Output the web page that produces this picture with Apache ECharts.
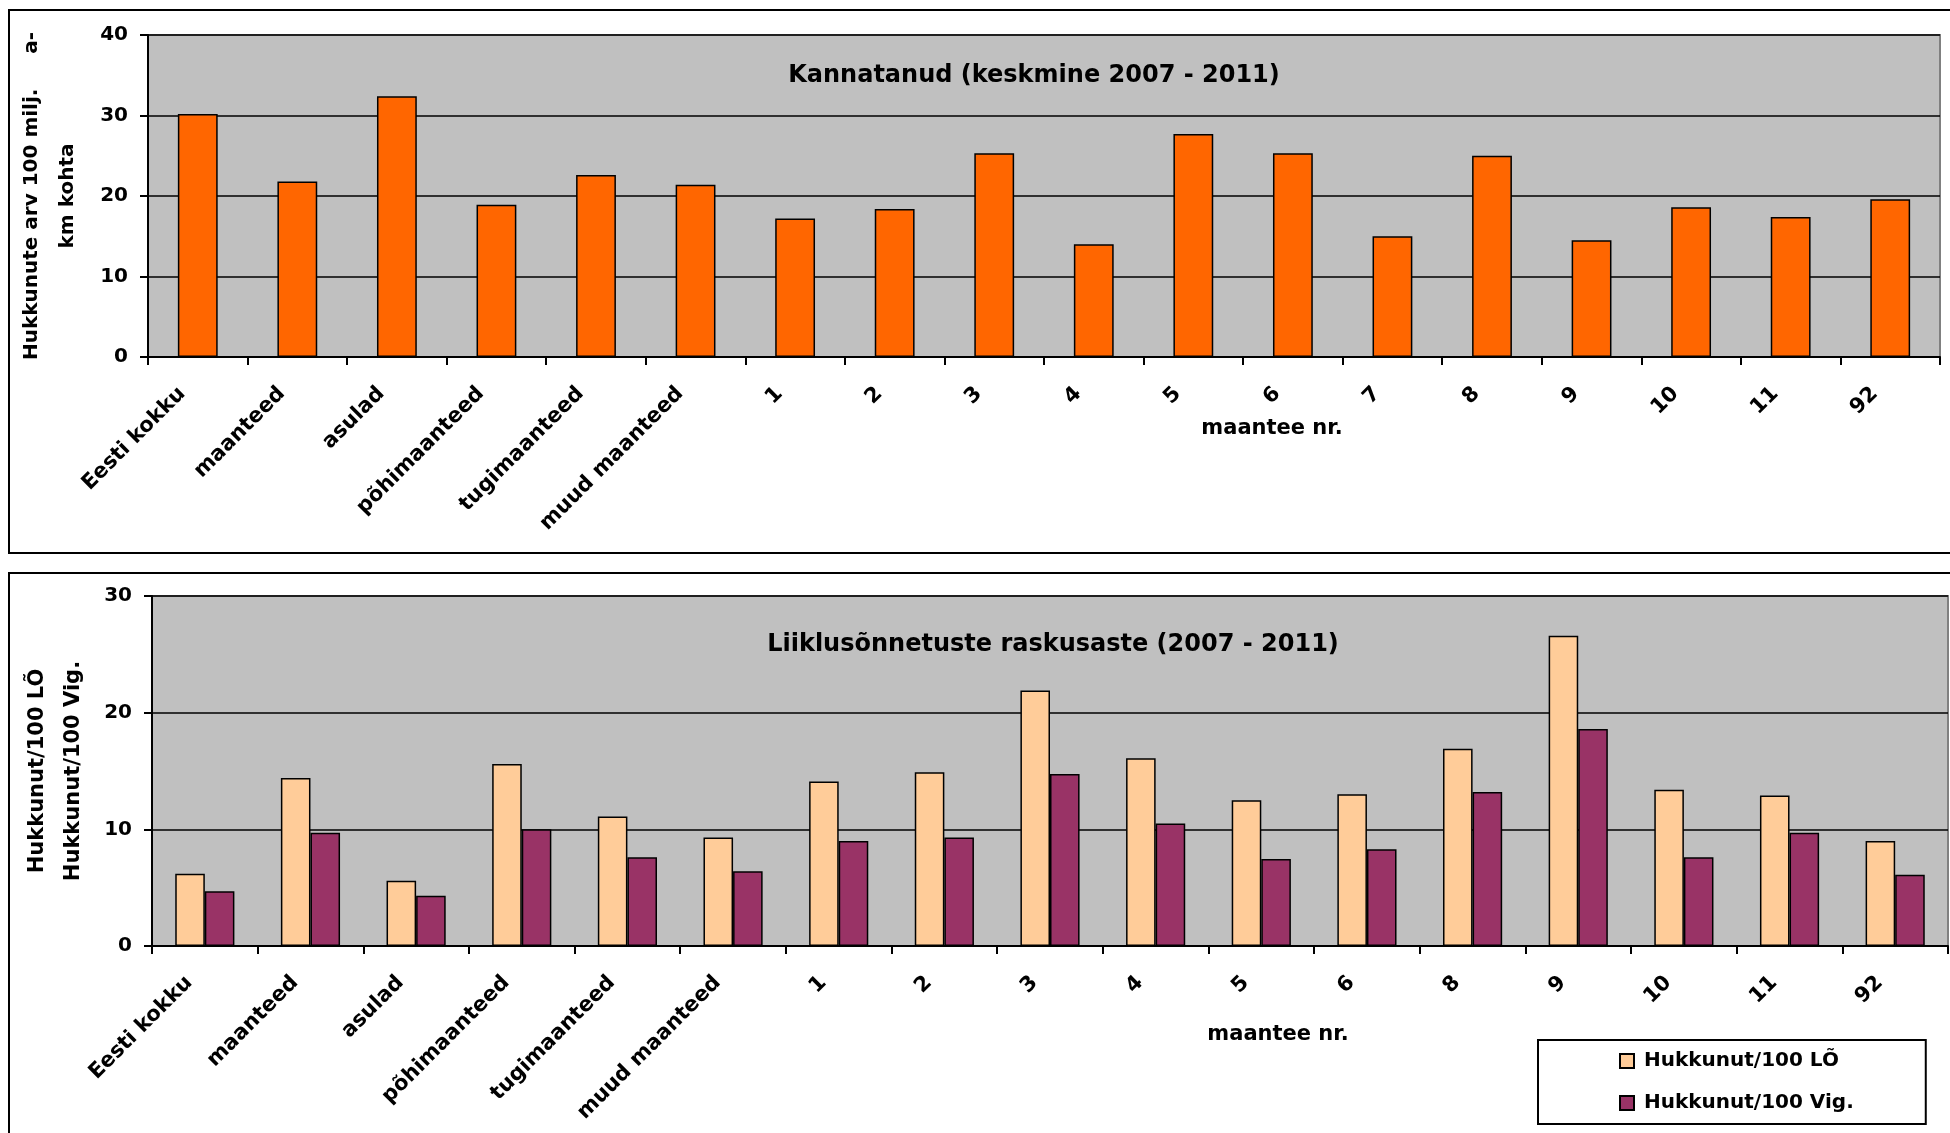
<!DOCTYPE html>
<html>
<head>
<meta charset="utf-8">
<script src="https://cdn.jsdelivr.net/npm/echarts@6/dist/echarts.min.js"></script>
<style>
  html, body { margin: 0; padding: 0; background: #fff; }
  #chart { width: 1950px; height: 1133px; }
</style>
</head>
<body>
<div id="chart"></div>
<script>
// andmed (loetud pildilt)
const topCategories = ['Eesti kokku', 'maanteed', 'asulad', 'põhimaanteed', 'tugimaanteed', 'muud maanteed',
  '1', '2', '3', '4', '5', '6', '7', '8', '9', '10', '11', '92']
const kannatanud = [30.2, 21.8, 32.4, 18.9, 22.6, 21.4, 17.2, 18.4, 25.3, 14.0, 27.7, 25.3, 15.0, 25.0, 14.5, 18.6, 17.4, 19.6]

const bottomCategories = ['Eesti kokku', 'maanteed', 'asulad', 'põhimaanteed', 'tugimaanteed', 'muud maanteed',
  '1', '2', '3', '4', '5', '6', '8', '9', '10', '11', '92']
const hukkunudLO = [6.2, 14.4, 5.6, 15.6, 11.1, 9.3, 14.1, 14.9, 21.9, 16.1, 12.5, 13.0, 16.9, 26.6, 13.4, 12.9, 9.0]
const hukkunudVig = [4.7, 9.7, 4.3, 10.0, 7.6, 6.4, 9.0, 9.3, 14.75, 10.5, 7.45, 8.3, 13.2, 18.6, 7.6, 9.7, 6.1]

const topTicks = { min: 0, max: 40, interval: 10 }
const bottomTicks = { min: 0, max: 30, interval: 10 }

const FONT = 'DejaVu Sans'

var myChart = echarts.init(document.getElementById('chart'))

function catAxis (gridIndex, data, nameGap) {
  return {
    type: 'category',
    gridIndex: gridIndex,
    data: data,
    name: 'maantee nr.',
    nameLocation: 'middle',
    nameGap: nameGap,
    nameMoveOverlap: false,
    nameTextStyle: { fontFamily: FONT, fontWeight: 'bold', fontSize: 21, color: '#000', padding: [0, 0, 0, 456] },
    axisLine: { lineStyle: { color: '#000', width: 2 } },
    axisTick: { show: true, length: 8, lineStyle: { color: '#000', width: 2 } },
    axisLabel: {
      rotate: 45,
      interval: 0,
      margin: 18,
      padding: [0, 22, 0, 0],
      fontFamily: FONT,
      fontWeight: 'bold',
      fontSize: 21,
      color: '#000'
    }
  }
}

function valAxis (gridIndex, ticks, name, fontSize, lineHeight, nameGap) {
  return {
    type: 'value',
    gridIndex: gridIndex,
    min: ticks.min,
    max: ticks.max,
    interval: ticks.interval,
    name: name,
    nameLocation: 'middle',
    nameGap: nameGap,
    nameMoveOverlap: false,
    nameTextStyle: { fontFamily: FONT, fontWeight: 'bold', fontSize: fontSize, color: '#000', lineHeight: lineHeight, align: 'center' },
    axisLine: { show: true, lineStyle: { color: '#000', width: 2 } },
    axisTick: { show: true, length: 8, lineStyle: { color: '#000', width: 2 } },
    axisLabel: { margin: 20, fontFamily: FONT, fontWeight: 'bold', fontSize: 20, color: '#000' },
    splitLine: { show: true, lineStyle: { color: '#000', width: 1.5 } }
  }
}

myChart.setOption({
  animation: false,
  textStyle: { fontFamily: FONT },
  title: [
    {
      text: 'Kannatanud (keskmine 2007 - 2011)',
      left: 1029,
      top: 59,
      textAlign: 'center',
      textStyle: { fontFamily: FONT, fontWeight: 'bold', fontSize: 24, color: '#000' }
    },
    {
      text: 'Liiklusõnnetuste raskusaste (2007 - 2011)',
      left: 1048,
      top: 628,
      textAlign: 'center',
      textStyle: { fontFamily: FONT, fontWeight: 'bold', fontSize: 24, color: '#000' }
    }
  ],
  legend: {
    data: ['Hukkunut/100 LÕ', 'Hukkunut/100 Vig.'],
    orient: 'vertical',
    left: 1538,
    top: 1040,
    padding: [11, 72, 11, 81],
    itemGap: 22,
    itemWidth: 14,
    itemHeight: 14,
    icon: 'rect',
    backgroundColor: '#fff',
    borderColor: '#000',
    borderWidth: 2,
    textStyle: { fontFamily: FONT, fontWeight: 'bold', fontSize: 20, color: '#000', padding: [0, 0, 0, 5] }
  },
  graphic: [
    { type: 'rect', shape: { x: 9, y: 10, width: 2000, height: 543 }, style: { fill: 'none', stroke: '#000', lineWidth: 2 }, z: 100 },
    { type: 'rect', shape: { x: 9, y: 573, width: 2000, height: 600 }, style: { fill: 'none', stroke: '#000', lineWidth: 2 }, z: 100 }
  ],
  grid: [
    { left: 148, right: 10, top: 35, height: 322, show: true, backgroundColor: '#C0C0C0', borderColor: '#808080', borderWidth: 2 },
    { left: 152, right: 2, top: 596, height: 350, show: true, backgroundColor: '#C0C0C0', borderColor: '#808080', borderWidth: 2 }
  ],
  xAxis: [
    catAxis(0, topCategories, 61),
    catAxis(1, bottomCategories, 78)
  ],
  yAxis: [
    valAxis(0, topTicks, 'Hukkunute arv 100 milj.     a-\nkm kohta', 20, 36, 62),
    valAxis(1, bottomTicks, 'Hukkunut/100 LÕ\nHukkunut/100 Vig.', 21, 36, 60)
  ],
  series: [
    {
      name: 'Kannatanud',
      type: 'bar',
      xAxisIndex: 0,
      yAxisIndex: 0,
      data: kannatanud,
      barWidth: '40%',
      itemStyle: { color: '#FF6600', borderColor: '#000', borderWidth: 1.5 }
    },
    {
      name: 'Hukkunut/100 LÕ',
      type: 'bar',
      xAxisIndex: 1,
      yAxisIndex: 1,
      data: hukkunudLO,
      barGap: '0%',
      barCategoryGap: '44%',
      itemStyle: { color: '#FFCC99', borderColor: '#000', borderWidth: 1.5 }
    },
    {
      name: 'Hukkunut/100 Vig.',
      type: 'bar',
      xAxisIndex: 1,
      yAxisIndex: 1,
      data: hukkunudVig,
      barGap: '0%',
      barCategoryGap: '44%',
      itemStyle: { color: '#993366', borderColor: '#000', borderWidth: 1.5 }
    }
  ]
})
</script>
</body>
</html>
